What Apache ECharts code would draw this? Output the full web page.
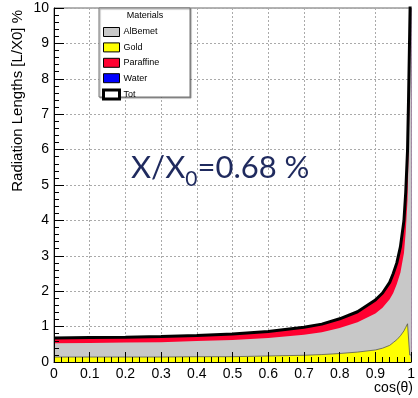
<!DOCTYPE html>
<html>
<head>
<meta charset="utf-8">
<script src="https://cdn.jsdelivr.net/npm/echarts@6/dist/echarts.min.js"></script>
<style>
html,body{margin:0;padding:0;background:#fff;}
#chart{width:418px;height:398px;}
</style>
</head>
<body>
<div id="chart"></div>
<script>
// cos(theta) sample points and stacked material contributions (% X0)
const cosTheta  = [0,    0.1,  0.2,  0.3,  0.4,  0.5,  0.6,  0.7,  0.75, 0.8,  0.85, 0.9,  0.92, 0.94, 0.95, 0.96, 0.97, 0.98, 0.985, 0.99, 0.993, 0.996, 1.0];
const gold      = [0.14, 0.14, 0.14, 0.14, 0.15, 0.15, 0.17, 0.19, 0.21, 0.24, 0.28, 0.34, 0.39, 0.47, 0.55, 0.63, 0.74, 0.88, 0.98,  1.08, 1.12,  0.20,  0.20];
const alBemet   = [0.39, 0.40, 0.41, 0.42, 0.44, 0.47, 0.51, 0.58, 0.63, 0.72, 0.84, 1.03, 1.14, 1.30, 1.40, 1.57, 1.78, 2.20, 2.70,  3.50,  4.80,  7.60, 10.50];
const paraffine = [0.15, 0.15, 0.15, 0.16, 0.16, 0.17, 0.18, 0.21, 0.23, 0.26, 0.30, 0.38, 0.42, 0.48, 0.55, 0.60, 0.73, 0.92, 1.12,  1.40,  1.60,  1.50,  1.00];
const water     = [0,    0,    0,    0,    0,    0,    0,    0,    0,    0,    0,    0,    0,    0,    0,    0,    0,    0,    0,     0,     0,     0,     0];
const tot       = [0.68, 0.69, 0.70, 0.72, 0.75, 0.79, 0.86, 0.98, 1.07, 1.22, 1.42, 1.75, 1.95, 2.25, 2.50, 2.80, 3.25, 4.00, 4.80,  5.98,  7.52,  9.30, 11.70];

const font = 'Liberation Sans, Arial, sans-serif';

// stack by hand: each layer is filled from 0 up to its cumulative top
const cumGold = gold.slice();
const cumAl = cumGold.map((v, i) => v + alBemet[i]);
const cumPar = cumAl.map((v, i) => v + paraffine[i]);
const cumWater = cumPar.map((v, i) => v + water[i]);
const pairs = (vals) => vals.map((v, i) => [cosTheta[i], v]);

const area = (name, vals, color, z, lineColor) => ({
   name,
   type: 'line',
   data: pairs(vals),
   symbol: 'none',
   lineStyle: { width: lineColor ? 0.8 : 0, color: lineColor || color },
   areaStyle: { color, opacity: 1 },
   itemStyle: { color },
   z
});

const legendRect = (name) => ({ name, icon: 'rect', itemStyle: { borderColor: '#000', borderWidth: 1 } });

const chart = echarts.init(document.getElementById('chart'));
chart.setOption({
   animation: false,
   backgroundColor: '#fff',
   grid: { left: 54, right: 5, top: 8, bottom: 36, show: true, borderColor: '#666', borderWidth: 1, backgroundColor: 'transparent' },
   legend: {
      data: [
         legendRect('AlBemet'), legendRect('Gold'), legendRect('Paraffine'), legendRect('Water'),
         { name: 'Tot', icon: 'rect', itemStyle: { color: '#fff', borderColor: '#000', borderWidth: 3 } }
      ],
      orient: 'vertical',
      left: 102,
      top: 27,
      itemWidth: 16,
      itemHeight: 9,
      itemGap: 5.4,
      padding: 0,
      selectedMode: false,
      textStyle: { fontFamily: font, fontSize: 9, color: '#000', padding: [0, 0, 0, -1] },
      z: 20
   },
   xAxis: [
      {
         type: 'value', min: 0, max: 1, interval: 0.1,
         axisLine: { show: false }, axisTick: { show: false },
         axisLabel: { fontFamily: font, fontSize: 14, color: '#000', margin: 5 },
         splitLine: { show: true, lineStyle: { color: '#aaa', type: [2, 2], width: 1 } },
         z: 0
      },
      {
         type: 'value', min: 0, max: 1, interval: 0.1, position: 'bottom',
         axisLine: { show: true, lineStyle: { color: '#000', width: 1 } },
         axisTick: { show: true, inside: true, length: 10, lineStyle: { color: '#000' } },
         minorTick: { show: true, splitNumber: 5, length: 5, lineStyle: { color: '#000' } },
         axisLabel: { show: false }, splitLine: { show: false },
         z: 10
      }
   ],
   yAxis: [
      {
         type: 'value', min: 0, max: 10, interval: 1,
         axisLine: { show: false }, axisTick: { show: false },
         axisLabel: { fontFamily: font, fontSize: 14, color: '#000', margin: 5 },
         splitLine: { show: true, lineStyle: { color: '#aaa', type: [2, 2], width: 1 } },
         z: 0
      },
      {
         type: 'value', min: 0, max: 10, interval: 1, position: 'left',
         axisLine: { show: true, lineStyle: { color: '#000', width: 1 } },
         axisTick: { show: true, inside: true, length: 10, lineStyle: { color: '#000' } },
         minorTick: { show: true, splitNumber: 5, length: 5, lineStyle: { color: '#000' } },
         axisLabel: { show: false }, splitLine: { show: false },
         z: 10
      }
   ],
   series: [
      area('Water', cumWater, '#0000ff', 2),
      area('Paraffine', cumPar, '#ff0030', 3),
      area('AlBemet', cumAl, '#c8c8c8', 4),
      area('Gold', cumGold, '#ffff00', 5, '#555'),
      {
         name: 'Tot', type: 'line', data: pairs(tot), symbol: 'none',
         lineStyle: { color: '#000', width: 3 },
         itemStyle: { color: '#fff', borderColor: '#000' },
         z: 6
      }
   ],
   graphic: [
      {
         type: 'rect', z: 15,
         shape: { x: 99, y: 8, width: 91, height: 89 },
         style: { fill: '#fff', stroke: '#777', lineWidth: 1, shadowColor: 'rgba(0,0,0,0.35)', shadowOffsetX: 1, shadowOffsetY: 1, shadowBlur: 1 }
      },
      {
         type: 'text', z: 16, x: 145, y: 16,
         style: { text: 'Materials', font: '9px ' + font, fill: '#000', align: 'center', verticalAlign: 'middle' }
      },
      {
         type: 'text', z: 16, x: 18, y: 10, rotation: Math.PI / 2,
         style: { text: 'Radiation Lengths [L/X0] %', font: '15px ' + font, fill: '#000', align: 'right', verticalAlign: 'middle' }
      },
      {
         type: 'text', z: 16, x: 413, y: 388,
         style: { text: 'cos(θ)', font: '14px ' + font, fill: '#000', align: 'right', verticalAlign: 'middle' }
      },
      {
         type: 'text', z: 16, x: 131, y: 168,
         style: {
            text: 'X/X{sub|0}=0.68 %',
            font: '31px Lato, sans-serif', fill: '#1f2a5e', align: 'left', verticalAlign: 'middle',
            rich: { sub: { font: '21px Lato, sans-serif', fill: '#1f2a5e', padding: [22, 0, 0, 0] } }
         }
      }
   ]
});
</script>
</body>
</html>
